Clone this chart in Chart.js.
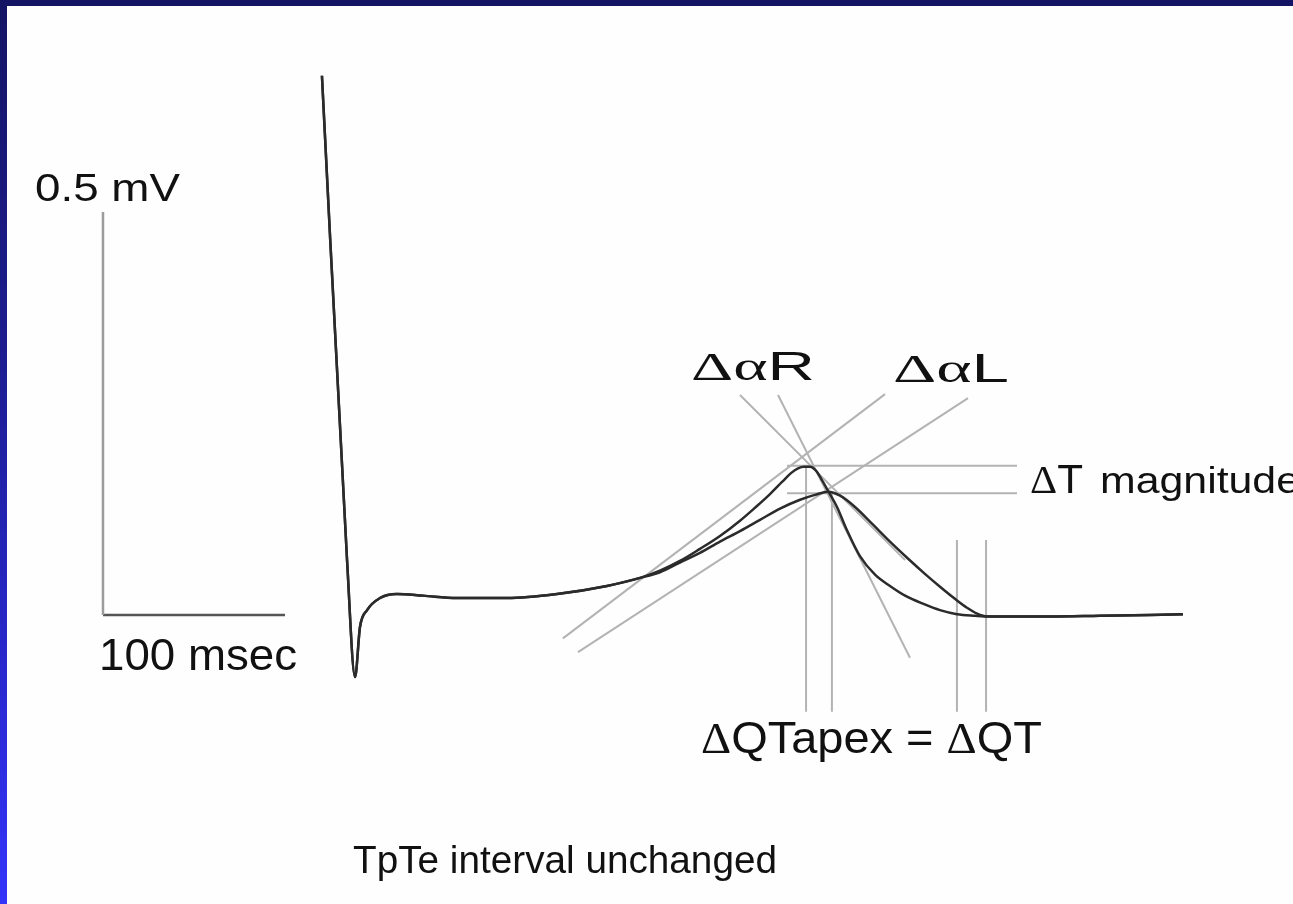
<!DOCTYPE html>
<html><head><meta charset="utf-8">
<script src="https://cdn.jsdelivr.net/npm/chart.js@4.4.1/dist/chart.umd.min.js"></script>
<style>
html,body{margin:0;padding:0;width:1293px;height:904px;overflow:hidden;background:#141465;}
#frame{position:absolute;left:0;top:0;width:1293px;height:904px;background:linear-gradient(to bottom,#141465 0%,#1d1d92 40%,#2727c8 70%,#3434fa 100%);}
#paper{position:absolute;left:7px;top:6px;width:1286px;height:898px;background:#fefefe;}
#c{position:absolute;left:0;top:0;}
</style></head>
<body>
<div id="frame"></div><div id="paper"></div>
<canvas id="c" width="1293" height="904"></canvas>
<script>
// ---- data (time in msec, voltage in mV, relative to calibration corner) ----
const qrsTime  = [120.3, 134.1, 138.5, 141.2, 145.1, 152.2, 161.5, 175.8, 194.5, 222.0, 249.5, 276.9, 295.1];
const qrsVolt  = [0.669, 0.068, -0.077, -0.015, 0.006, 0.021, 0.026, 0.024, 0.021, 0.021, 0.026, 0.036, 0.046];

const tWaveATime = [306.0, 317.0, 328.0, 339.0, 350.0, 358.2, 366.5, 373.1, 378.0, 381.9, 385.2, 388.5, 391.8, 395.1, 398.4, 403.3, 408.8, 415.9, 424.2, 432.4, 440.7, 450.5, 459.9, 469.2, 479.1, 487.4];
const tWaveAVolt = [0.055, 0.067, 0.082, 0.098, 0.117, 0.133, 0.150, 0.165, 0.176, 0.182, 0.184, 0.184, 0.179, 0.167, 0.154, 0.134, 0.105, 0.073, 0.050, 0.036, 0.024, 0.014, 0.006, 0.001, -0.001, -0.002];

const tWaveBTime = [306.0, 317.0, 328.0, 339.0, 350.0, 361.0, 372.0, 383.0, 391.2, 398.4, 405.0, 413.2, 423.1, 432.4, 441.8, 451.6, 459.9, 468.1, 474.7, 481.9, 487.4];
const tWaveBVolt = [0.053, 0.065, 0.077, 0.091, 0.104, 0.118, 0.132, 0.143, 0.149, 0.153, 0.148, 0.134, 0.112, 0.091, 0.071, 0.051, 0.035, 0.020, 0.009, 0.000, -0.002];

const tailTime = [492.9, 520.3, 547.8, 575.3, 593.4];
const tailVolt = [-0.002, -0.002, -0.001, 0.000, 0.001];

// calibration bar: 0.5 mV / 100 msec
const calibTime = [0, 0, 100];
const calibVolt = [0.5, 0, 0];

// construction lines [t1, v1, t2, v2]
const slopeR_B = [350.0, 0.273, 440.7, 0.068];
const slopeR_A = [370.9, 0.273, 443.4, -0.053];
const slopeL_A = [429.7, 0.274, 252.7, -0.029];
const slopeL_B = [475.3, 0.269, 261.0, -0.046];
const peakA_H  = [375.8, 0.185, 502.2, 0.185];
const peakB_H  = [375.8, 0.151, 502.2, 0.151];
const apexA_V  = [386.3, 0.185, 386.3, -0.120];
const apexB_V  = [400.5, 0.151, 400.5, -0.120];
const endA_V   = [469.2, 0.093, 469.2, -0.120];
const endB_V   = [485.2, 0.093, 485.2, -0.120];

// ---- build ----
function pts(ts, vs){ return ts.map((t,i)=>({x:t,y:vs[i]})); }
function seg(a){ return [{x:a[0],y:a[1]},{x:a[2],y:a[3]}]; }

const curveA = pts(qrsTime,qrsVolt).concat(pts(tWaveATime,tWaveAVolt), pts(tailTime,tailVolt));
const curveB = pts(qrsTime,qrsVolt).concat(pts(tWaveBTime,tWaveBVolt), pts(tailTime,tailVolt));

const guideStyle = {showLine:true, pointRadius:0, borderColor:'#b3b3b3', borderWidth:2, tension:0, order:2, fill:false};
const guides = [slopeR_B, slopeR_A, slopeL_A, slopeL_B, peakA_H, peakB_H, apexA_V, apexB_V, endA_V, endB_V]
  .map(a => Object.assign({data:seg(a)}, guideStyle));

const datasets = [
  {data:curveA, showLine:true, pointRadius:0, borderColor:'#2b2b2b', borderWidth:2.5, cubicInterpolationMode:'monotone', order:0},
  {data:curveB, showLine:true, pointRadius:0, borderColor:'#2b2b2b', borderWidth:2.5, cubicInterpolationMode:'monotone', order:0},
  {data:pts(calibTime.slice(0,2),calibVolt.slice(0,2)), showLine:true, pointRadius:0, borderColor:'#9c9c9c', borderWidth:2.5, order:1},
  {data:pts(calibTime.slice(1),calibVolt.slice(1)), showLine:true, pointRadius:0, borderColor:'#555555', borderWidth:2.5, order:1}
].concat(guides);

// ---- text ----
const SANS = '"Liberation Sans", Arial, sans-serif';
const SERIF = '"Liberation Serif", "Times New Roman", serif';
function drawRuns(ctx, runs, x, base, size, width){
  let total = 0;
  runs.forEach(r => { ctx.font = size + 'px ' + r.f; r.w = ctx.measureText(r.t).width; total += r.w; });
  const sx = width ? width/total : 1;
  ctx.save(); ctx.translate(x, base); ctx.scale(sx, 1);
  let cx = 0;
  runs.forEach(r => { ctx.font = size + 'px ' + r.f; ctx.fillText(r.t, cx, 0); cx += r.w; });
  ctx.restore();
}
const textPlugin = {
  id:'texts',
  afterDraw(chart){
    const ctx = chart.ctx;
    ctx.save();
    ctx.fillStyle = '#111111';
    ctx.textBaseline = 'alphabetic';
    ctx.textAlign = 'left';
    drawRuns(ctx, [{t:'0.5 mV', f:SANS}], 35, 201, 38, 145);
    drawRuns(ctx, [{t:'100 msec', f:SANS}], 99, 670, 44, 198);
    drawRuns(ctx, [{t:'\u0394', f:SERIF},{t:'\u03B1', f:SERIF},{t:'R', f:SANS}], 691, 380, 40, 124);
    drawRuns(ctx, [{t:'\u0394', f:SERIF},{t:'\u03B1', f:SERIF},{t:'L', f:SANS}], 893, 382, 40, 116);
    drawRuns(ctx, [{t:'\u0394', f:SERIF},{t:'T', f:SANS}], 1030, 493, 40, 53);
    drawRuns(ctx, [{t:'magnitude', f:SANS}], 1100, 493, 36, 200);
    drawRuns(ctx, [{t:'\u0394', f:SERIF},{t:'QTapex', f:SANS},{t:' = ', f:SANS},{t:'\u0394', f:SERIF},{t:'QT', f:SANS}], 701, 753, 44, 341);
    drawRuns(ctx, [{t:'TpTe interval unchanged', f:SANS}], 353, 873, 38, 424);
    ctx.restore();
  }
};

new Chart(document.getElementById('c'), {
  type:'scatter',
  data:{datasets},
  options:{
    responsive:false, animation:false, devicePixelRatio:1,
    layout:{padding:0},
    scales:{
      x:{type:'linear', min:-56.59, max:653.85, display:false},
      y:{type:'linear', min:-0.3586, max:0.7630, display:false}
    },
    plugins:{legend:{display:false}, tooltip:{enabled:false}, title:{display:false}},
    elements:{line:{capBezierPoints:true}}
  },
  plugins:[textPlugin]
});
</script>
</body></html>
